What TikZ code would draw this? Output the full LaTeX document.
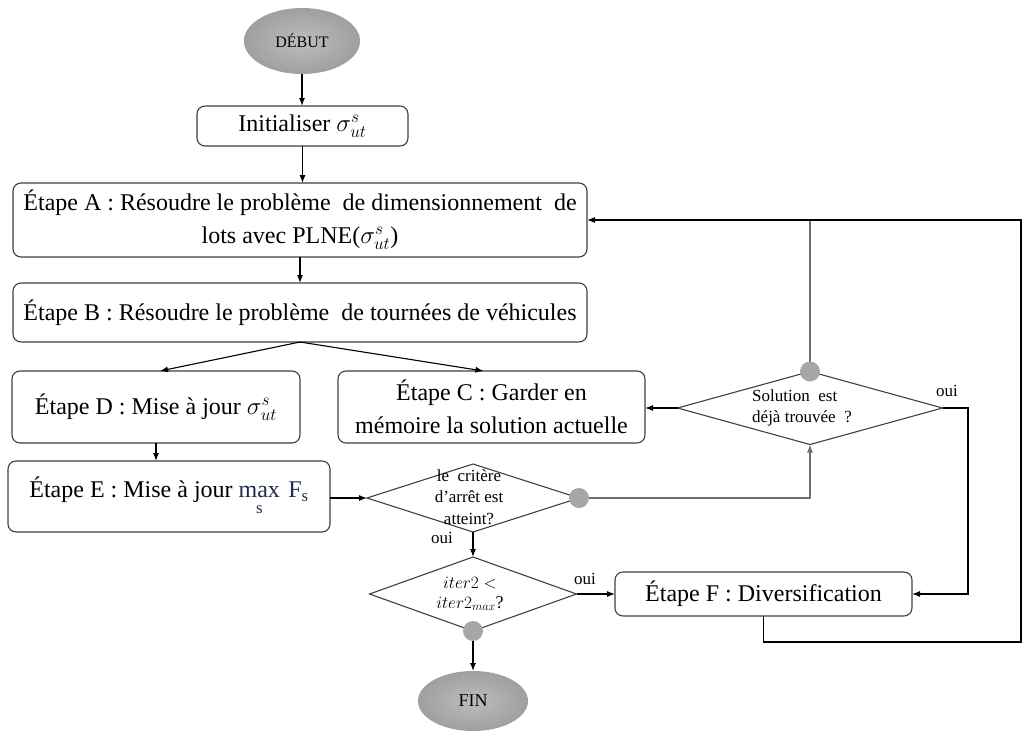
\documentclass[tikz,border=0pt]{standalone}
\usepackage{fontspec}
\setmainfont{Liberation Serif}
\usepackage{amsmath}
\usetikzlibrary{shapes.geometric,arrows.meta,calc}
\definecolor{boxc}{HTML}{404040}
\definecolor{dotc}{HTML}{A6A6A6}
\definecolor{linkc}{HTML}{6E6E6E}
\definecolor{maxc}{HTML}{1F2D4D}
\begin{document}
\begin{tikzpicture}[x=1pt,y=-1pt,
  stepbox/.style={draw=boxc, line width=1.1pt, rounded corners=8pt, fill=white, inner sep=0pt, outer sep=0pt, align=center, font=\fontsize{24}{33}\selectfont},
  term/.style={ellipse, inner sep=0pt, outer sep=0pt, shade, inner color=gray!52, outer color=gray!75},
  decision/.style={diamond, draw=boxc, line width=1.1pt, inner sep=0pt, outer sep=0pt},
  dtext/.style={font=\fontsize{17}{21.5}\selectfont, align=center, inner sep=0pt},
  gdot/.style={circle, fill=dotc, minimum size=20pt, inner sep=0pt},
  arr/.style={-{Latex[length=8pt,width=6pt]}, line width=1.1pt},
  link/.style={line width=1.1pt, draw=linkc},
  lbl/.style={font=\fontsize{17}{18}\selectfont, inner sep=0pt}
]
\useasboundingbox (0,0) rectangle (1023,731);
% terminals and steps
\node[term, minimum width=116pt, minimum height=66pt, font=\fontsize{16}{18}\selectfont] (deb) at (302,41) {DÉBUT};
\node[stepbox, minimum width=211pt, minimum height=40pt] (init) at (302.5,126) {Initialiser $\sigma^{s}_{ut}$};
\node[stepbox, minimum width=574pt, minimum height=74pt] (A) at (300,220) {Étape A : Résoudre le problème\ \ de dimensionnement\ \ de\\ lots avec PLNE($\sigma^{s}_{ut}$)};
\node[stepbox, minimum width=574pt, minimum height=59pt] (B) at (300,312.5) {Étape B : Résoudre le problème\ \ de tournées de véhicules};
\node[stepbox, minimum width=288pt, minimum height=72pt] (D) at (156,407) {Étape D : Mise à jour $\sigma^{s}_{ut}$};
\node[stepbox, minimum width=307pt, minimum height=72pt] (C) at (491.5,407) {Étape C : Garder en\\ mémoire la solution actuelle};
\node[stepbox, minimum width=322pt, minimum height=71pt] (E) at (169,496.5) {Étape E : Mise à jour {\color{maxc}$\mathop{\text{max}}\limits_{\text{s}}\,\text{F}_{\text{s}}$}};
\node[stepbox, minimum width=297pt, minimum height=44pt] (F) at (763.5,594) {Étape F : Diversification};
% decisions
\node[decision, minimum width=265pt, minimum height=73pt] (S) at (810,408) {};
\node[dtext, align=left] (St) at (802,408) {Solution\ \ est\\ déjà trouvée\ \ ?};
\node[decision, minimum width=212pt, minimum height=68pt] (d1) at (473,498) {};
\node[dtext] (d1t) at (469,497) {le\ \ critère\\ d'arrêt est\\ atteint?};
\node[decision, minimum width=207pt, minimum height=74pt] (d2) at (473,594) {};
\node[dtext, font=\fontsize{18}{20}\selectfont] (d2t) at (470,594) {$iter2<$\\ $iter2_{max}$?};
\node[term, minimum width=110pt, minimum height=60pt, font=\fontsize{18}{20}\selectfont] (fin) at (473,701) {FIN};
% helper coordinates
\coordinate (g1) at (d1.east);
\coordinate (g2) at (d2.south);
\coordinate (g3) at (S.north);
\coordinate (sr) at (968,408);
\coordinate (rt) at (1021,220);
\coordinate (rb) at (1021,642);
% connectors
\draw[arr] (deb.south) -- (deb.south |- init.north);
\draw[arr] (init.south) -- (init.south |- A.north);
\draw[arr] (A.south) -- (B.north);
\draw[arr] (B.south) -- ([xshift=4pt]D.north);
\draw[arr] (B.south) -- ([xshift=-8pt]C.north);
\draw[arr] (D.south) -- (D.south |- E.north);
\draw[arr] (d1.west -| E.east) -- (d1.west);
\draw[arr] (d1.south) -- (d2.north);
\draw[arr, draw=linkc] (g1) -- (g1 -| S.south) -- (S.south);
\draw[arr] (S.west) -- (S.west -| C.east);
\draw[link] (g3) -- (g3 |- A.east);
\draw[arr] (S.east) -- (sr) |- (F.east);
\draw[arr] (d2.east) -- (F.west);
\draw[arr] (g2) -- (fin.north);
\draw[arr] (F.south) -- (F.south |- rb) -- (rb) -- (rt) -- (A.east);
% dots
\node[gdot] (g1dot) at (g1) {};
\node[gdot] (g2dot) at (g2) {};
\node[gdot] (g3dot) at (g3) {};
% labels
\node[lbl] (o1) at (947,391) {oui};
\node[lbl] (o2) at (442,538) {oui};
\node[lbl] (o3) at (585,579) {oui};
\end{tikzpicture}
\end{document}
